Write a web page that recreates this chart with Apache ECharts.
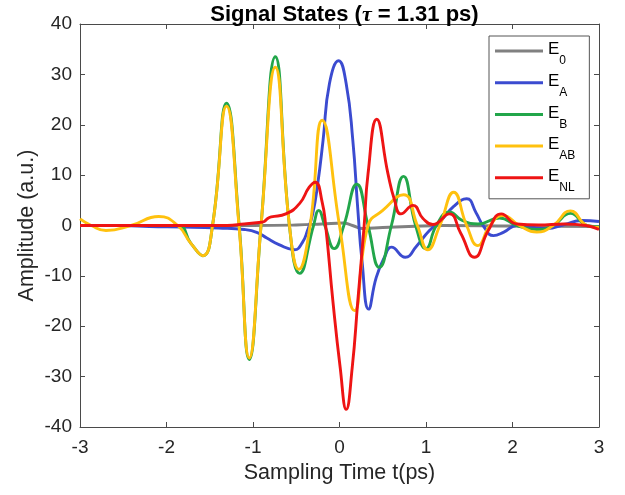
<!DOCTYPE html>
<html>
<head>
<meta charset="utf-8">
<script src="https://cdn.jsdelivr.net/npm/echarts@6/dist/echarts.min.js"></script>
<style>html,body{margin:0;padding:0;background:#fff;}#c{width:625px;height:495px;}</style>
</head>
<body>
<div id="c"></div>
<script>
// ---- data ----
const xTicks = [-3, -2, -1, 0, 1, 2, 3];
const yTicks = [-40, -30, -20, -10, 0, 10, 20, 30, 40];
const seriesNames = ['E0', 'EA', 'EB', 'EAB', 'ENL'];
const legendSubs = ['0', 'A', 'B', 'AB', 'NL'];

const tE0 = [-3, -1, -0.5, -0.2, 0.04, 0.15, 0.27, 0.5, 0.8, 1.2, 2, 3];
const vE0 = [0, 0, 0.1, 0.3, 0.5, 0, -0.6, -0.4, -0.2, 0, -0.1, -0.2];

const tEA = [-3, -2.5, -2.2, -1.8, -1.4, -1.1, -0.95, -0.84, -0.7, -0.52, -0.43, -0.37, -0.31, -0.25, -0.19, -0.116, -0.01, 0.077, 0.154, 0.21, 0.26, 0.336, 0.425, 0.52, 0.6, 0.76, 0.89, 1.04, 1.16, 1.32, 1.47, 1.58, 1.66, 1.78, 1.9, 2.05, 2.2, 2.4, 2.6, 2.8, 3];
const vEA = [0, 0, -0.2, -0.3, -0.5, -0.8, -1.4, -2.5, -3.8, -4.8, -3.4, -1.0, 2.3, 8.5, 16.9, 28.2, 32.7, 28.2, 16.9, 3.6, -7, -16.6, -10.3, -6.3, -4.3, -6.3, -4.1, -1.0, 0.7, 3.8, 5.3, 2.5, 0, -2.0, -1.3, 0, -0.3, -0.6, 0.2, 1.0, 0.8];

const tEB = [-3, -1.87, -1.72, -1.58, -1.468, -1.306, -1.16, -1.043, -0.907, -0.742, -0.579, -0.46, -0.3, -0.24, -0.17, -0.06, 0.05, 0.2, 0.33, 0.46, 0.6, 0.74, 0.88, 1.0, 1.12, 1.27, 1.42, 1.6, 1.85, 2.05, 2.28, 2.47, 2.67, 2.86, 3];
const vEB = [0, 0, -3.5, -6.0, 0, 24.3, 0, -26.6, 0, 33.5, 0, -9.5, 0, 3.0, 0, -4.6, 0, 8.2, 0, -8.3, 0, 9.75, 0, -4.6, 0, 2.7, 1.0, 0.3, 1.5, 0, -0.8, 0, 2.4, 0, -0.3];

const tEAB = [-3, -2.87, -2.7, -2.41, -2.09, -1.87, -1.72, -1.58, -1.468, -1.306, -1.162, -1.043, -0.907, -0.742, -0.579, -0.47, -0.34, -0.2, 0.0, 0.174, 0.33, 0.5, 0.74, 0.9, 1.02, 1.16, 1.32, 1.47, 1.6, 1.74, 1.89, 2.08, 2.28, 2.47, 2.67, 2.86, 3];
const vEAB = [1.3, 0, -1.0, 0, 1.8, 0, -3.5, -6.0, 0, 23.7, 0, -26.3, 0, 31.4, 0, -8.7, 0, 20.9, 0, -16.9, 0, 3.0, 6.1, 0, -4.8, 0, 6.6, 0, -4.0, 0, 2.0, 0, -1.3, 0, 2.9, 0, -0.4];

const tENL = [-3, -1.3, -1.1, -0.93, -0.87, -0.83, -0.79, -0.62, -0.46, -0.35, -0.28, -0.2, -0.16, -0.077, 0.008, 0.078, 0.147, 0.212, 0.285, 0.33, 0.43, 0.56, 0.637, 0.71, 0.85, 0.965, 1.08, 1.27, 1.4, 1.56, 1.72, 1.87, 2.05, 2.3, 2.6, 2.85, 3];
const vENL = [0, 0, 0.3, 0.6, 0.8, 1.4, 1.7, 2.3, 4.4, 7.6, 8.6, 4.6, 0, -14.9, -28.2, -36.5, -28.2, -14.9, 0, 10.3, 21.1, 10.3, 5.0, 2.3, 4.0, 1.4, 0.2, 2.3, -1.5, -6.3, -1.0, 2.3, 0.3, 0.1, 0.3, 0, -0.8];

const colors = ['#808080', '#3b4bd0', '#22a64a', '#ffc10e', '#ee1414'];
// ---------------------------------------

const times = [tE0, tEA, tEB, tEAB, tENL];
const values = [vE0, vEA, vEB, vEAB, vENL];
const FONT = '"Liberation Sans", Arial, Helvetica, sans-serif';
const AXC = '#4a4a4a';
const TXT = '#262626';

function pairs(t, v) { return t.map((x, i) => [x, v[i]]); }

const series = seriesNames.map((n, k) => ({
  name: n,
  type: 'line',
  xAxisIndex: 0,
  yAxisIndex: 0,
  data: pairs(times[k], values[k]),
  showSymbol: false,
  symbol: 'none',
  smooth: 0.5,
  lineStyle: { width: 2.9, color: colors[k] },
  itemStyle: { color: colors[k] },
  z: 2 + k,
  animation: false
}));

function axisCommon(pos, show) {
  return {
    type: 'value',
    position: pos,
    axisLine: { show: true, onZero: false, lineStyle: { color: AXC, width: 1 } },
    axisTick: { show: true, inside: true, length: 5, lineStyle: { color: AXC, width: 1 } },
    splitLine: { show: false },
    axisLabel: { show: show, fontSize: 19, color: TXT, fontFamily: FONT, showMinLabel: true, showMaxLabel: true }
  };
}

const xB = Object.assign(axisCommon('bottom', true), {
  min: xTicks[0], max: xTicks[xTicks.length - 1], interval: 1,
  name: 'Sampling Time t(ps)', nameLocation: 'middle', nameGap: 29,
  nameTextStyle: { fontSize: 21.5, color: TXT, fontFamily: FONT }
});
xB.axisLabel.margin = 11;
const xT = Object.assign(axisCommon('top', false), { min: xTicks[0], max: xTicks[xTicks.length - 1], interval: 1 });
const yL = Object.assign(axisCommon('left', true), {
  min: yTicks[0], max: yTicks[yTicks.length - 1], interval: 10,
  name: 'Amplitude (a.u.)', nameLocation: 'middle', nameGap: 41.5, nameMoveOverlap: false,
  nameTextStyle: { fontSize: 21.5, color: TXT, fontFamily: FONT }
});
yL.axisLabel.margin = 8;
const yR = Object.assign(axisCommon('right', false), { min: yTicks[0], max: yTicks[yTicks.length - 1], interval: 10 });

const chart = echarts.init(document.getElementById('c'), null, { renderer: 'canvas' });
chart.setOption({
  animation: false,
  backgroundColor: '#ffffff',
  title: {
    text: '{b|Signal States (}{t|τ}{b| = 1.31 ps)}',
    left: 339.5,
    top: -1,
    textAlign: 'center',
    textStyle: {
      rich: {
        b: { fontSize: 22, fontWeight: 'bold', color: '#000', fontFamily: FONT },
        t: { fontSize: 22, fontStyle: 'italic', color: '#000', fontFamily: '"Liberation Serif", "DejaVu Serif", serif' }
      }
    }
  },
  grid: { left: 80, right: 26, top: 24, bottom: 68, containLabel: false },
  xAxis: [xB, xT],
  yAxis: [yL, yR],
  legend: {
    orient: 'vertical',
    left: 489,
    top: 36,
    data: seriesNames,
    icon: 'rect',
    itemWidth: 48,
    itemHeight: 3,
    itemGap: 5.7,
    padding: [5, 14, 5, 6],
    backgroundColor: '#ffffff',
    borderColor: '#555',
    borderWidth: 1,
    borderRadius: 0,
    selectedMode: false,
    formatter: function (n) { return '{e|E}{s|' + legendSubs[seriesNames.indexOf(n)] + '}'; },
    textStyle: {
      color: '#000',
      fontFamily: FONT,
      rich: {
        e: { fontSize: 17, lineHeight: 20, verticalAlign: 'top', color: '#000', fontFamily: FONT },
        s: { fontSize: 12, lineHeight: 12, padding: [14, 0, 0, 0], verticalAlign: 'top', color: '#000', fontFamily: FONT }
      }
    }
  },
  series: series
});
</script>
</body>
</html>
